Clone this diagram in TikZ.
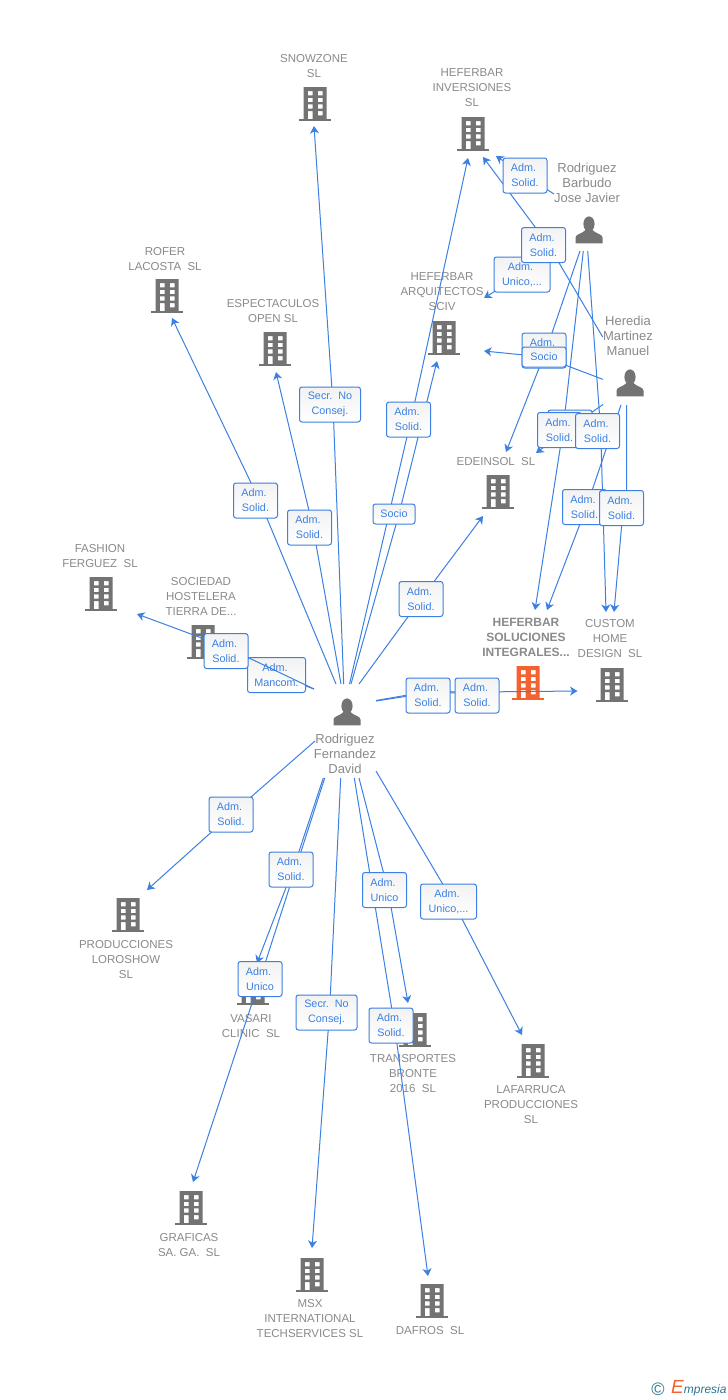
\documentclass[tikz,border=0pt]{standalone}
\usepackage{fontspec}
\setmainfont{Liberation Sans}
\usetikzlibrary{arrows.meta}
\definecolor{lnk}{HTML}{3B80E2}
\definecolor{bld}{HTML}{737373}
\definecolor{txt}{HTML}{8A8A8A}
\definecolor{org}{HTML}{F4622F}
\definecolor{teal}{HTML}{2F7590}
\pgfdeclarelayer{back}\pgfdeclarelayer{lowline}\pgfdeclarelayer{under}\pgfdeclarelayer{lines}
\pgfsetlayers{back,lowline,under,lines,main}
\newcommand{\Adm}{Adm.\kern3pt}
\tikzset{
 link/.style={draw=lnk,line width=1pt,-{Stealth[length=7.5pt,width=9pt,inset=2.2pt]}},
 lab/.style={draw=lnk,line width=1pt,rounded corners=2.5pt,top color=black!5,bottom color=white,
   text=lnk,inner sep=0pt,minimum width=44pt,minimum height=35pt,align=center,
   font=\fontsize{10.8}{15}\selectfont},
 labw/.style={lab,minimum width=58pt},
 labx/.style={lab,minimum width=61pt},
 labs/.style={lab,minimum height=20pt},
 co/.style={text=txt,align=center,inner sep=0pt,font=\fontsize{11.5}{15}\selectfont},
 cob/.style={co,font=\fontsize{12}{15}\bfseries\selectfont},
 pe/.style={text=txt,align=center,inner sep=0pt,font=\fontsize{13}{15}\selectfont},
 ico/.style={minimum width=32pt,minimum height=34pt,inner sep=0pt},
}
\newcommand{\bldg}[4][bld]{%
 \node[ico] (#2) at (#3,#4) {};
 \begin{scope}[shift={(#3,#4)}]
  \fill[#1,even odd rule] (-11.5,-17) rectangle (11.5,15.2)
   (-7.2,-12.8) rectangle (-2.5,-8.6) (2.8,-12.8) rectangle (7.5,-8.6)
   (-7.2,-6.2) rectangle (-2.5,-2) (2.8,-6.2) rectangle (7.5,-2)
   (-7.2,0.4) rectangle (-2.5,4.6) (2.8,0.4) rectangle (7.5,4.6)
   (-7.2,7) rectangle (-2.5,15.2) (2.8,7) rectangle (7.5,11.4);
  \fill[#1] (-16,15.2) rectangle (16,17);
 \end{scope}}
\newcommand{\persn}[3]{%
 \node[minimum width=27pt,minimum height=27pt,inner sep=0pt] (#1) at (#2,#3) {};
 \begin{scope}[shift={(#2,#3)}]
  \fill[bld] (0,-6) ellipse (5.6 and 7.6);
  \fill[bld] (-13.5,13.3) -- (-13.5,7.5) .. controls (-13.5,4) and (-6,3.5) .. (-3.5,0)
    -- (3.5,0) .. controls (6,3.5) and (13.5,4) .. (13.5,7.5) -- (13.5,13.3) -- cycle;
 \end{scope}}
\begin{document}
\begin{tikzpicture}[x=1pt,y=-1pt]
\useasboundingbox (0,0) rectangle (728,1400);
\begin{pgfonlayer}{back}
\fill[white] (0,0) rectangle (728,1400);
\bldg{snow}{315}{104}
\bldg{hinv}{473}{134}
\bldg{harq}{444}{338}
\bldg{rofer}{167}{296}
\bldg{espec}{275}{349}
\bldg{edein}{498}{492}
\bldg{fash}{101}{594}
\bldg{socie}{203}{642}
\bldg[org]{hsol}{528}{683}
\bldg{custom}{612}{685}
\bldg{prod}{128}{915}
\bldg{vasari}{253}{988}
\bldg{trans}{415}{1030}
\bldg{lafa}{533}{1061}
\bldg{graf}{191}{1208}
\bldg{msx}{312}{1275}
\bldg{dafros}{432}{1301}
\persn{david}{347}{712}
\persn{javier}{589}{230}
\persn{heredia}{630}{383}
\node[co] (tsnow) at (314,66) {SNOWZONE\\SL};
\node[co] (thinv) at (472,88) {HEFERBAR\\INVERSIONES\\SL};
\node[co] (tharq) at (442,292) {HEFERBAR\\ARQUITECTOS\\SCIV};
\node[co] (trofer) at (165,259) {ROFER\\LACOSTA~~SL};
\node[co] (tespec) at (273,311) {ESPECTACULOS\\OPEN SL};
\node[co] (tedein) at (496,462) {EDEINSOL~~SL};
\node[co] (tfash) at (100,556) {FASHION\\FERGUEZ~~SL};
\node[co] (tsocie) at (201,596) {SOCIEDAD\\HOSTELERA\\TIERRA DE...};
\node[cob] (thsol) at (526,637) {HEFERBAR\\SOLUCIONES\\INTEGRALES...};
\node[co] (tcustom) at (610,639) {CUSTOM\\HOME\\DESIGN~~SL};
\node[co] (tprod) at (126,960) {PRODUCCIONES\\LOROSHOW\\SL};
\node[co] (tvasari) at (251,1026) {VASARI\\CLINIC~~SL};
\node[co] (ttrans) at (413,1074) {TRANSPORTES\\BRONTE\\2016~~SL};
\node[co] (tlafa) at (531,1105) {LAFARRUCA\\PRODUCCIONES\\SL};
\node[co] (tgraf) at (189,1245) {GRAFICAS\\SA. GA.~~SL};
\node[co] (tmsx) at (310,1319) {MSX\\INTERNATIONAL\\TECHSERVICES SL};
\node[co] (tdafros) at (430,1331) {DAFROS~~SL};
\node[pe] (tdavid) at (345,754) {Rodriguez\\Fernandez\\David};
\node[pe] (tjavier) at (587,183) {Rodriguez\\Barbudo\\Jose Javier};
\node[pe] (theredia) at (628,336) {Heredia\\Martinez\\Manuel};
\node[text=teal,inner sep=0pt,font=\fontsize{18}{18}\selectfont] (copyr) at (658,1389) {©};
\node[anchor=base west,inner sep=0pt,text=teal,font=\fontsize{12}{15}\itshape\selectfont] (logo) at (671,1393)
  {\textcolor{org}{\fontsize{19}{15}\selectfont E}mpresia};
\end{pgfonlayer}

% labels, lowest first
\begin{pgfonlayer}{under}
\node[labw] (lmancom) at (276.5,675) {\Adm\\Mancom.};
\end{pgfonlayer}
\node[labx] (lsnow) at (330,404.5) {Secr.~~No\\Consej.};
\node[lab] (lrofer) at (255.5,500.5) {\Adm\\Solid.};
\node[lab] (lespec) at (309.5,527.5) {\Adm\\Solid.};
\node[lab] (lhinv) at (408.5,419.5) {\Adm\\Solid.};
\node[labs,minimum width=42pt] (lharq) at (394,514) {Socio};
\node[lab] (ledein) at (421,599) {\Adm\\Solid.};
\node[lab] (lsocie) at (226,651) {\Adm\\Solid.};
\node[lab] (lhsol) at (428,695.5) {\Adm\\Solid.};
\node[lab] (lcustom) at (477,695.5) {\Adm\\Solid.};
\node[lab] (lprod) at (231,814.5) {\Adm\\Solid.};
\node[lab] (lvasari) at (291,869.5) {\Adm\\Solid.};
\node[lab] (lgraf) at (260,979) {\Adm\\Unico};
\node[labx] (lmsx) at (326.5,1012.5) {Secr.~~No\\Consej.};
\node[lab] (ltrans) at (384.5,890) {\Adm\\Unico};
\node[lab] (ldafros) at (391,1025.5) {\Adm\\Solid.};
\node[labw,minimum width=56pt] (llafa) at (448.5,901.5) {\Adm\\Unico,...};
\node[lab] (jhinv) at (525,175.5) {\Adm\\Solid.};
\node[labw,minimum width=56pt] (jharq) at (522,274.5) {\Adm\\Unico,...};
\node[lab] (hhinv) at (543.5,245) {\Adm\\Solid.};
\node[lab] (jedein) at (544,350.5) {\Adm\\Solid.};
\node[labs] (harqs) at (544,357) {Socio};
\node[lab] (hedein) at (570,427.5) {\Adm\\Solid.};
\node[lab] (jhsol) at (559.5,430) {\Adm\\Solid.};
\node[lab] (jcustom) at (597.5,431) {\Adm\\Solid.};
\node[lab] (hhsol) at (584.5,507) {\Adm\\Solid.};
\node[lab] (hcustom) at (621.5,508) {\Adm\\Solid.};

% connector ends
\coordinate (d1) at (343.7,684); \coordinate (e1) at (314,126);
\coordinate (d2) at (336,684); \coordinate (e2) at (172,318);
\coordinate (d3) at (341,684); \coordinate (e3) at (276,372);
\coordinate (d4) at (349.5,684); \coordinate (e4) at (468,158);
\coordinate (d5) at (351,684); \coordinate (e5) at (437,361);
\coordinate (d6) at (359,684); \coordinate (e6) at (483,516);
\coordinate (d7) at (314,689); \coordinate (e7) at (137,614);
\coordinate (e8) at (235,658);
\coordinate (d9) at (376,701); \coordinate (e9) at (497,692.5);
\coordinate (d10) at (376,700.5); \coordinate (e10) at (577.5,691);
\coordinate (d11) at (315,741); \coordinate (e11) at (147,890);
\coordinate (d12) at (323.3,778); \coordinate (e12) at (257,963);
\coordinate (d13) at (324.7,778); \coordinate (e13) at (193,1182);
\coordinate (d14) at (340.7,778); \coordinate (e14) at (312,1248);
\coordinate (d15) at (354.3,778); \coordinate (e15) at (428,1276);
\coordinate (d16) at (359,778); \coordinate (e16) at (408,1003);
\coordinate (d17) at (376,771); \coordinate (e17) at (522,1035);
\coordinate (j1) at (554,194); \coordinate (f1) at (496,156);
\coordinate (j2) at (560,252); \coordinate (f2) at (484,298);
\coordinate (j3) at (580,251); \coordinate (f3) at (506,452);
\coordinate (j4) at (583.3,251); \coordinate (f4) at (535,610);
\coordinate (j5) at (587.7,251); \coordinate (f5) at (606,612);
\coordinate (h1) at (602.7,337); \coordinate (g1) at (483,157);
\coordinate (h2) at (602.7,379.3); \coordinate (g2) at (484,351);
\coordinate (h3) at (603,404.5); \coordinate (g3) at (536,453);
\coordinate (h4) at (621,405); \coordinate (g4) at (547,610);
\coordinate (h5) at (626.7,405); \coordinate (g5) at (614,612);

\begin{pgfonlayer}{lowline}
\draw[link] (d7) -- (lmancom) -- (e8);
\end{pgfonlayer}
\begin{pgfonlayer}{lines}
\draw[link] (d1) -- ([xshift=3pt]lsnow.center) -- (e1);
\draw[link] (d2) -- ([xshift=4pt]lrofer.center) -- (e2);
\draw[link] (d3) -- ([xshift=3.5pt]lespec.center) -- (e3);
\draw[link] (d4) -- ([xshift=2.5pt]lhinv.center) -- (e4);
\draw[link] (d5) -- ([xshift=5pt]lharq.center) -- (e5);
\draw[link] (d6) -- (ledein.center) -- (e6);
\draw[link] (d7) -- ([yshift=4pt]lsocie.center) -- (e7); % y axis stays upward for shifts
\draw[link] (d9) -- ([yshift=2.5pt]lhsol.center) -- (e9);
\draw[link] (d10) -- ([yshift=4pt]lhsol.center) -- ([yshift=3.5pt]lcustom.center) -- (e10);
\draw[link] (d11) -- (lprod.center) -- (e11);
\draw[link] (d12) -- ([xshift=2pt]lvasari.center) -- (e12);
\draw[link] (d13) -- (lgraf.center) -- (e13);
\draw[link] (d14) -- ([xshift=3pt]lmsx.center) -- (e14);
\draw[link] (d15) -- ([xshift=3.5pt]ldafros.center) -- (e15);
\draw[link] (d16) -- ([xshift=3.5pt]ltrans.center) -- (e16);
\draw[link] (d17) -- ([xshift=4.5pt]llafa.center) -- (e17);
\draw[link] (j1) -- (jhinv.center) -- (f1);
\draw[link] (j2) -- (jharq.center) -- (f2);
\draw[link] (j3) -- ([xshift=2pt]jedein.center) -- (f3);
\draw[link] (j4) -- ([xshift=3.5pt]jhsol.center) -- (f4);
\draw[link] (j5) -- ([xshift=3.2pt]jcustom.center) -- (f5);
\draw[link] (h1) -- ([xshift=5pt]hhinv.center) -- (g1);
\draw[link] (h2) -- (harqs.center) -- (g2);
\draw[link] (h3) -- (hedein.center) -- (g3);
\draw[link] (h4) -- ([xshift=2pt]hhsol.center) -- (g4);
\draw[link] (h5) -- ([xshift=5pt,yshift=18pt]hcustom.center) -- ([xshift=0.2pt,yshift=-17pt]hcustom.center) -- (g5);
\end{pgfonlayer}
\end{tikzpicture}
\end{document}
